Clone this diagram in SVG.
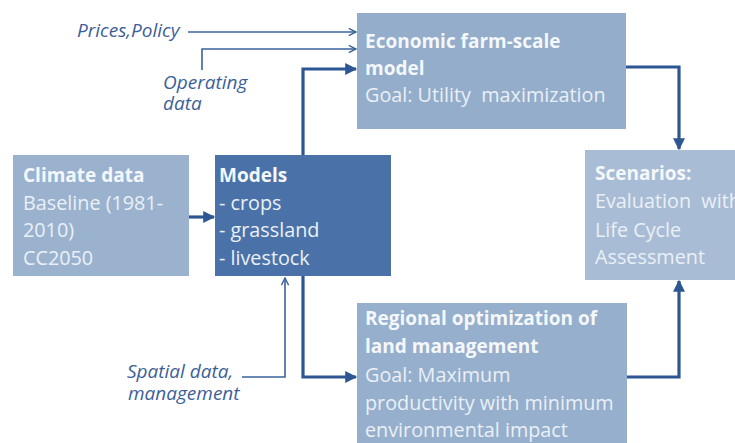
<svg xmlns="http://www.w3.org/2000/svg" width="735" height="443" viewBox="0 0 735 443">
  <style>
    .box text { font-family: "Open Sans", "Liberation Sans", sans-serif; font-size: 19.8px; fill: #eaf0f7; white-space: pre; }
    .box .t { font-weight: bold; font-size: 19px; fill: #f4f7fb; }
    .lbl { font-family: "Open Sans", "Liberation Sans", sans-serif; font-style: italic; font-size: 19px; fill: #3d5f98; }
    .thin { fill: none; stroke: #3a639c; stroke-width: 1.6; }
    .thick { fill: none; stroke: #2d5792; stroke-width: 3.2; }
  </style>
  <defs>
    <marker id="open" viewBox="0 0 10 10" refX="9" refY="5" markerWidth="9" markerHeight="9" markerUnits="userSpaceOnUse" orient="auto">
      <path d="M1,1 L9,5 L1,9" fill="none" stroke="#3a639c" stroke-width="1.6"/>
    </marker>
    <marker id="solid" viewBox="0 0 10 10" refX="9" refY="5" markerWidth="13" markerHeight="12" markerUnits="userSpaceOnUse" orient="auto">
      <path d="M0,0 L10,5 L0,10 Z" fill="#2d5792"/>
    </marker>
  </defs>

  <rect width="735" height="443" fill="#ffffff"/>

  <!-- nodes -->
  <g id="economic" class="box">
    <rect x="357" y="13" width="269" height="116" fill="#93adca"/>
    <text class="t" x="365" y="48">Economic farm-scale</text>
    <text class="t" x="365" y="75">model</text>
    <text x="365" y="102" xml:space="preserve">Goal: Utility  maximization</text>
  </g>

  <g id="climate" class="box">
    <rect x="13" y="155" width="176" height="121" fill="#9bb2cf"/>
    <text class="t" x="23" y="182">Climate data</text>
    <text x="23" y="210">Baseline (1981-</text>
    <text x="23" y="237">2010)</text>
    <text x="23" y="265">CC2050</text>
  </g>

  <g id="models" class="box">
    <rect x="215" y="155" width="176" height="121" fill="#4a72a8"/>
    <text class="t" x="219" y="182">Models</text>
    <text x="219" y="210">- crops</text>
    <text x="219" y="237">- grassland</text>
    <text x="219" y="265">- livestock</text>
  </g>

  <g id="scenarios" class="box">
    <rect x="585" y="150" width="160" height="130" fill="#a9bcd5"/>
    <text class="t" x="595" y="180">Scenarios:</text>
    <text x="595" y="208" xml:space="preserve">Evaluation  with</text>
    <text x="595" y="237">Life Cycle</text>
    <text x="595" y="264">Assessment</text>
  </g>

  <g id="regional" class="box">
    <rect x="357" y="303" width="270" height="150" fill="#96afcc"/>
    <text class="t" x="365" y="325">Regional optimization of</text>
    <text class="t" x="365" y="353">land management</text>
    <text x="365" y="382">Goal: Maximum</text>
    <text x="365" y="410">productivity with minimum</text>
    <text x="365" y="437">environmental impact</text>
  </g>

  <!-- input labels -->
  <g id="prices">
    <text class="lbl" x="77" y="37">Prices,Policy</text>
  </g>
  <g id="operating">
    <text class="lbl" x="163" y="89">Operating</text>
    <text class="lbl" x="163" y="110">data</text>
  </g>
  <g id="spatial">
    <text class="lbl" x="127" y="378">Spatial data,</text>
    <text class="lbl" x="128" y="400">management</text>
  </g>

  <!-- connectors -->
  <g id="connectors">
    <path class="thin" d="M188,32 H356" marker-end="url(#open)"/>
    <path class="thin" d="M202,70 V49 H356" marker-end="url(#open)"/>
    <path class="thin" d="M242,377 H285 V278" marker-end="url(#open)"/>
    <path class="thick" d="M303,155 V69 H356" marker-end="url(#solid)"/>
    <path class="thick" d="M303,276 V377 H356" marker-end="url(#solid)"/>
    <path class="thick" d="M189,217 H214" marker-end="url(#solid)"/>
    <path class="thick" d="M626,67 H679 V149" marker-end="url(#solid)"/>
    <path class="thick" d="M627,377 H679 V281" marker-end="url(#solid)"/>
  </g>
</svg>
